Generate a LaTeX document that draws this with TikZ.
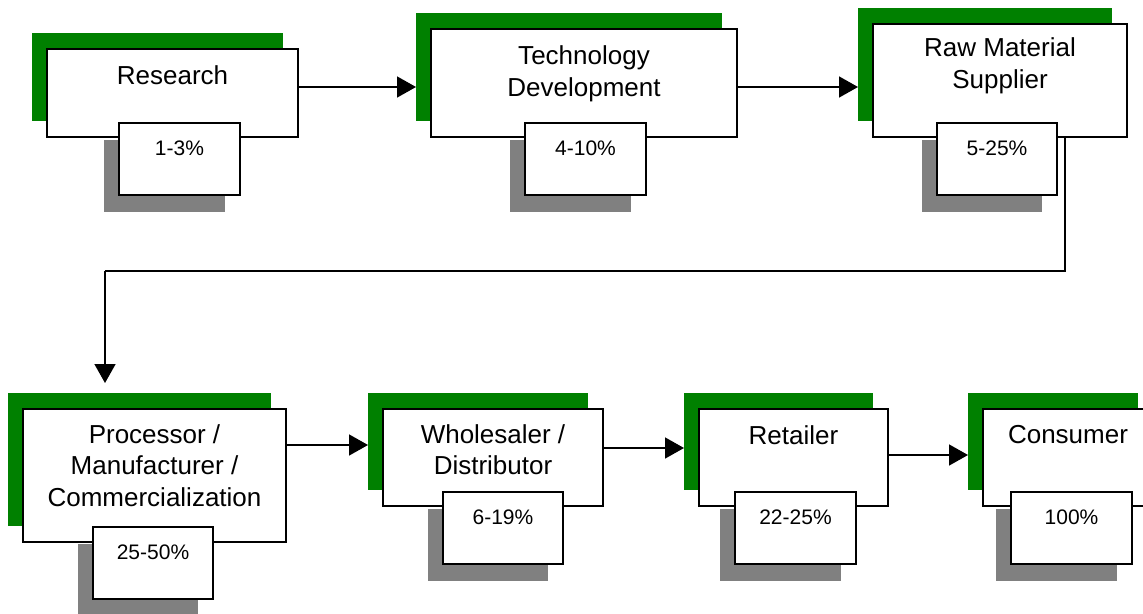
\documentclass[tikz,border=0pt]{standalone}
\usepackage{fontspec}
\setmainfont{Liberation Sans}
\usetikzlibrary{arrows.meta,calc}
\definecolor{boxgreen}{RGB}{0,128,0}
\definecolor{shadowgray}{RGB}{128,128,128}
\newcommand\stagefont{\fontsize{26}{31.5}\selectfont}
\newcommand\pctfont{\fontsize{21}{25}\selectfont}
\tikzset{
  every node/.style={inner sep=0pt, outer sep=0pt},
  greenbox/.style={fill=boxgreen, anchor=north west},
  mainbox/.style={draw=black, fill=white, line width=1.8pt, anchor=north west},
  stagetext/.style={anchor=north, align=center, font=\stagefont},
  graybox/.style={fill=shadowgray, anchor=north west},
  pctnode/.style={draw=black, fill=white, line width=1.8pt, anchor=north west,
    font=\pctfont, text height=32pt, text depth=40pt},
  arr/.style={line width=1.6pt, -{Triangle[length=19pt,width=21pt]}},
}
% name, x, y, w, h, text-top offset, text
\newcommand\stagebox[7]{%
  \node[greenbox, minimum width=#4pt, minimum height=#5pt] (#1G) at ({#2-15},{#3-16}) {};
  \node[mainbox, minimum width=#4pt, minimum height=#5pt] (#1) at (#2,#3) {};
  \node[stagetext] (#1T) at ([yshift=-#6pt]#1.north) {\strut #7};
}
% name, x, y, w, text
\newcommand\pctbox[5]{%
  \node[graybox, minimum width=#4pt, minimum height=72pt] (#1S) at ({#2-15},{#3+17}) {};
  \node[pctnode, minimum width=#4pt] (#1) at (#2,#3) {#5};
}
\begin{document}
\begin{tikzpicture}[x=1pt,y=-1pt]
\useasboundingbox (0,0) rectangle (1143,613);

\stagebox{research}{47}{49}{251}{88}{13.7}{Research}
\pctbox{researchP}{119}{123}{121}{1-3\%}

\stagebox{tech}{431}{29}{306}{108}{13.7}{Technology\\Development}
\pctbox{techP}{525}{123}{121}{4-10\%}

\stagebox{raw}{873}{24}{254}{113}{10.7}{Raw Material\\Supplier}
\pctbox{rawP}{937}{123}{120}{5-25\%}

\stagebox{proc}{23}{409}{263}{133}{12}{Processor /\\Manufacturer /\\Commercialization}
\pctbox{procP}{93}{527}{120}{25-50\%}

\stagebox{whole}{383}{409}{220}{97}{12}{Wholesaler /\\Distributor}
\pctbox{wholeP}{443}{492}{120}{6-19\%}

\stagebox{retail}{699}{409}{189}{97}{13.7}{Retailer}
\pctbox{retailP}{735}{492}{121}{22-25\%}

\stagebox{cons}{983}{409}{170}{97}{12.7}{Consumer}
\pctbox{consP}{1011}{492}{121}{100\%}

% connectors
\draw[arr] ([yshift=6pt]research.east) -- ([yshift=6pt]research.east -| techG.west);
\draw[arr] ([yshift=-4pt]tech.east) -- ([yshift=-4pt]tech.east -| rawG.west);

\coordinate (bendA) at (1065,271);
\coordinate (bendB) at (105,271);
\draw[line width=1.6pt] (raw.south -| bendA) -- (bendA) -- (bendB);
\draw[arr] (bendB) -- ($(bendB |- procG.north)+(0,-10)$);

\draw[arr] ([yshift=30.5pt]proc.east) -- ([yshift=30.5pt]proc.east -| wholeG.west);
\draw[arr] ([yshift=9.5pt]whole.east) -- ([yshift=9.5pt]whole.east -| retailG.west);
\draw[arr] ([yshift=2.5pt]retail.east) -- ([yshift=2.5pt]retail.east -| consG.west);
\end{tikzpicture}
\end{document}
